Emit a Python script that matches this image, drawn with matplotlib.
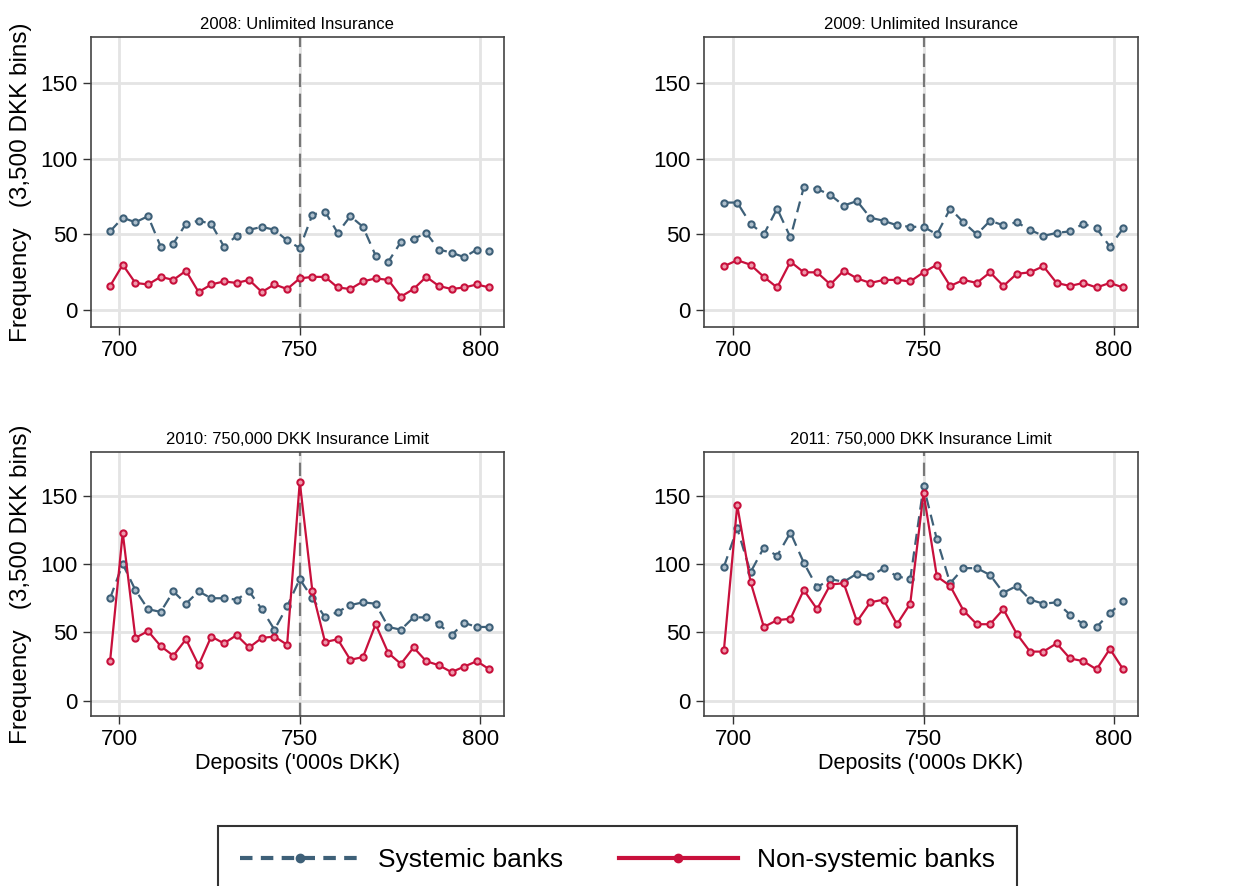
import numpy as np
import matplotlib.pyplot as plt
from matplotlib.lines import Line2D

plt.rcParams['font.family'] = ['Liberation Sans', 'DejaVu Sans']

# Bins of 3,500 DKK centred on the 750,000 threshold
bin_start = 697.5
bin_width = 3.5
n_bins = 31
deposits = bin_start + bin_width * np.arange(n_bins)

titles = ["2008: Unlimited Insurance", "2009: Unlimited Insurance",
          "2010: 750,000 DKK Insurance Limit", "2011: 750,000 DKK Insurance Limit"]

systemic_2008 = [52, 61, 58, 62, 42, 44, 57, 59, 57, 42, 49, 53, 55, 53, 46, 41,
                 63, 65, 51, 62, 55, 36, 32, 45, 47, 51, 40, 38, 35, 40, 39]
nonsys_2008 = [16, 30, 18, 17, 22, 20, 26, 12, 17, 19, 18, 20, 12, 17, 14, 21,
               22, 22, 15, 14, 19, 21, 20, 9, 14, 22, 16, 14, 15, 17, 15]

systemic_2009 = [71, 71, 57, 50, 67, 48, 81, 80, 76, 69, 72, 61, 59, 56, 55, 55,
                 50, 67, 58, 50, 59, 56, 58, 53, 49, 51, 52, 57, 54, 42, 54]
nonsys_2009 = [29, 33, 30, 22, 15, 32, 25, 25, 17, 26, 21, 18, 20, 20, 19, 25,
               30, 16, 20, 18, 25, 16, 24, 25, 29, 18, 16, 18, 15, 18, 15]

systemic_2010 = [75, 100, 81, 67, 65, 80, 71, 80, 75, 75, 74, 80, 67, 52, 69, 89,
                 75, 61, 65, 70, 72, 71, 54, 52, 61, 61, 56, 48, 57, 54, 54]
nonsys_2010 = [29, 123, 46, 51, 40, 33, 45, 26, 47, 42, 48, 39, 46, 47, 41, 160,
               80, 43, 45, 30, 32, 56, 35, 27, 39, 29, 26, 21, 25, 29, 23]

systemic_2011 = [98, 126, 94, 112, 106, 123, 101, 83, 89, 87, 93, 91, 97, 91, 89, 157,
                 118, 86, 97, 97, 92, 79, 84, 74, 71, 72, 63, 56, 54, 64, 73]
nonsys_2011 = [37, 143, 87, 54, 59, 60, 81, 67, 85, 86, 58, 72, 74, 56, 71, 152,
               91, 84, 66, 56, 56, 67, 49, 36, 36, 42, 31, 29, 23, 38, 23]

systemic = [systemic_2008, systemic_2009, systemic_2010, systemic_2011]
nonsys = [nonsys_2008, nonsys_2009, nonsys_2010, nonsys_2011]

BLUE = '#3e6078'
RED = '#c8103c'
GRID = '#e4e4e4'

fig = plt.figure(figsize=(12.39, 8.86), dpi=100)

# axes boxes [left, bottom, width, height] in figure fractions
boxes = [
    [0.0734, 0.631, 0.333, 0.327],
    [0.568, 0.631, 0.3505, 0.327],
    [0.0734, 0.192, 0.333, 0.298],
    [0.568, 0.192, 0.3505, 0.298],
]

for i, box in enumerate(boxes):
    ax = fig.add_axes(box)
    ax.set_xlim(692.2, 806.4)
    ax.set_ylim(-11, 180 if i < 2 else 182)
    ax.set_xticks([700, 750, 800])
    ax.set_yticks([0, 50, 100, 150])
    ax.grid(True, color=GRID, linewidth=2)
    ax.set_axisbelow(True)
    ax.axvline(750, color='#777777', linestyle=(0, (6, 3)), linewidth=1.6, zorder=1.5)

    ax.plot(deposits, systemic[i], color=BLUE, linestyle=(0, (5, 3)), linewidth=1.6,
            marker='o', markersize=4.5, markerfacecolor='#aebfcc', markeredgecolor=BLUE,
            markeredgewidth=1.5, zorder=3)
    ax.plot(deposits, nonsys[i], color=RED, linestyle='-', linewidth=1.6,
            marker='o', markersize=4.5, markerfacecolor='#ee9aac', markeredgecolor=RED,
            markeredgewidth=1.5, zorder=4)

    ax.set_title(titles[i], fontsize=12, pad=6)
    ax.tick_params(labelsize=16, length=6, width=1, color='#333333')
    for sp in ax.spines.values():
        sp.set_color('#444444')
        sp.set_linewidth(1.2)
    if i % 2 == 0:
        ax.set_ylabel("Frequency   (3,500 DKK bins)", fontsize=17.5, labelpad=6)
    if i >= 2:
        ax.set_xlabel("Deposits ('000s DKK)", fontsize=15.5, labelpad=2)

handles = [
    Line2D([0], [0], color=BLUE, linestyle=(0, (3, 2)), linewidth=3, marker='o',
           markersize=6, markerfacecolor=BLUE, markeredgecolor=BLUE),
    Line2D([0], [0], color=RED, linestyle='-', linewidth=3, marker='o',
           markersize=6, markerfacecolor=RED, markeredgecolor=RED),
]
leg = fig.legend(handles, ["Systemic banks", "Non-systemic banks"], loc='upper left',
                 bbox_to_anchor=(0.176, 0.0677), ncol=2, fontsize=19, frameon=True,
                 fancybox=False, edgecolor='black', handlelength=4.5, columnspacing=2.1,
                 borderpad=0.85, handletextpad=0.72, borderaxespad=0)
leg.get_frame().set_linewidth(1.5)

fig.savefig('out.png', dpi=100)
